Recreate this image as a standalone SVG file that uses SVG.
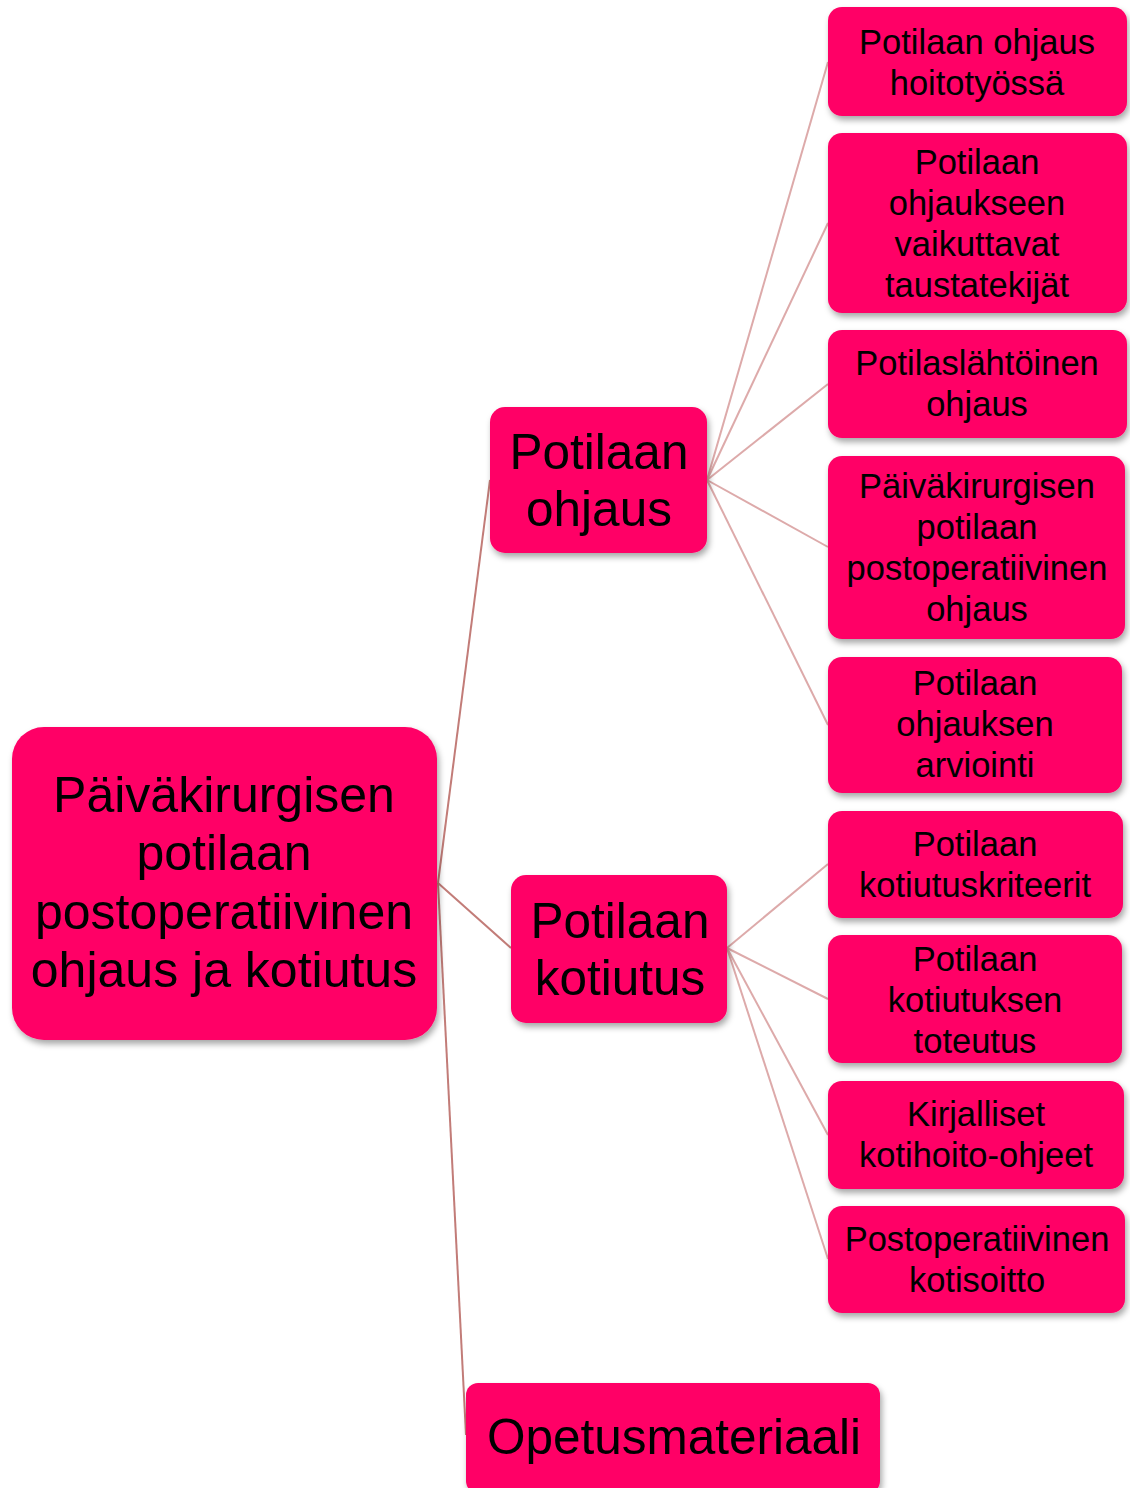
<svg xmlns="http://www.w3.org/2000/svg" width="1130" height="1488" viewBox="0 0 1130 1488">
<style>
.box{fill:#FF0066;filter:url(#sh)}
text{font-family:"Liberation Sans",Arial,sans-serif;fill:#000;text-anchor:middle}
.r{font-size:50px}
.m{font-size:49.5px}
.l{font-size:34.5px}
.c1{stroke:#C27C78;stroke-width:2;fill:none}
.c2{stroke:#DDAAAA;stroke-width:2;fill:none}
</style>
<defs>
<filter id="sh" x="-10%" y="-10%" width="125%" height="130%">
<feDropShadow dx="2" dy="4" stdDeviation="3" flood-color="#000" flood-opacity="0.35"/>
</filter>
</defs>
<rect width="1130" height="1488" fill="#fff"/>
<g id="connectors">
<line class="c1" x1="438" y1="883" x2="490" y2="480"/>
<line class="c1" x1="438" y1="883" x2="511" y2="948"/>
<line class="c1" x1="438" y1="883" x2="466" y2="1435"/>
<line class="c2" x1="707" y1="480" x2="828" y2="62"/>
<line class="c2" x1="707" y1="480" x2="828" y2="223"/>
<line class="c2" x1="707" y1="480" x2="828" y2="384"/>
<line class="c2" x1="707" y1="480" x2="828" y2="547"/>
<line class="c2" x1="707" y1="480" x2="828" y2="725"/>
<line class="c2" x1="727" y1="948" x2="828" y2="864"/>
<line class="c2" x1="727" y1="948" x2="828" y2="999"/>
<line class="c2" x1="727" y1="948" x2="828" y2="1135"/>
<line class="c2" x1="727" y1="948" x2="828" y2="1259"/>
</g>
<g id="root">
<rect class="box" x="12" y="727" width="425" height="313" rx="32"/>
<text class="r" x="224" y="812">Päiväkirurgisen</text>
<text class="r" x="224" y="870">potilaan</text>
<text class="r" x="224" y="929">postoperatiivinen</text>
<text class="r" x="224" y="987">ohjaus ja kotiutus</text>
</g>
<g id="ohjaus">
<rect class="box" x="490" y="407" width="217" height="146" rx="15"/>
<text class="m" x="599" y="469">Potilaan</text>
<text class="m" x="599" y="526">ohjaus</text>
</g>
<g id="kotiutus">
<rect class="box" x="511" y="875" width="216" height="148" rx="15"/>
<text class="m" x="620" y="938">Potilaan</text>
<text class="m" x="620" y="995">kotiutus</text>
</g>
<g id="opetusmateriaali">
<rect class="box" x="466" y="1383" width="414" height="110" rx="12"/>
<text class="m" x="674" y="1454">Opetusmateriaali</text>
</g>
<g id="leaf1">
<rect class="box" x="828" y="7" width="299" height="109" rx="14"/>
<text class="l" x="977" y="54">Potilaan ohjaus</text>
<text class="l" x="977" y="95">hoitotyössä</text>
</g>
<g id="leaf2">
<rect class="box" x="828" y="133" width="299" height="180" rx="14"/>
<text class="l" x="977" y="174">Potilaan</text>
<text class="l" x="977" y="215">ohjaukseen</text>
<text class="l" x="977" y="256">vaikuttavat</text>
<text class="l" x="977" y="297">taustatekijät</text>
</g>
<g id="leaf3">
<rect class="box" x="828" y="330" width="299" height="108" rx="14"/>
<text class="l" x="977" y="375">Potilaslähtöinen</text>
<text class="l" x="977" y="416">ohjaus</text>
</g>
<g id="leaf4">
<rect class="box" x="828" y="456" width="297" height="183" rx="14"/>
<text class="l" x="977" y="498">Päiväkirurgisen</text>
<text class="l" x="977" y="539">potilaan</text>
<text class="l" x="977" y="580">postoperatiivinen</text>
<text class="l" x="977" y="621">ohjaus</text>
</g>
<g id="leaf5">
<rect class="box" x="828" y="657" width="294" height="136" rx="14"/>
<text class="l" x="975" y="695">Potilaan</text>
<text class="l" x="975" y="736">ohjauksen</text>
<text class="l" x="975" y="777">arviointi</text>
</g>
<g id="leaf6">
<rect class="box" x="828" y="811" width="295" height="107" rx="14"/>
<text class="l" x="975" y="856">Potilaan</text>
<text class="l" x="975" y="897">kotiutuskriteerit</text>
</g>
<g id="leaf7">
<rect class="box" x="828" y="935" width="294" height="128" rx="14"/>
<text class="l" x="975" y="971">Potilaan</text>
<text class="l" x="975" y="1012">kotiutuksen</text>
<text class="l" x="975" y="1053">toteutus</text>
</g>
<g id="leaf8">
<rect class="box" x="828" y="1081" width="296" height="108" rx="14"/>
<text class="l" x="976" y="1126">Kirjalliset</text>
<text class="l" x="976" y="1167">kotihoito-ohjeet</text>
</g>
<g id="leaf9">
<rect class="box" x="828" y="1206" width="297" height="107" rx="14"/>
<text class="l" x="977" y="1251">Postoperatiivinen</text>
<text class="l" x="977" y="1292">kotisoitto</text>
</g>
</svg>
